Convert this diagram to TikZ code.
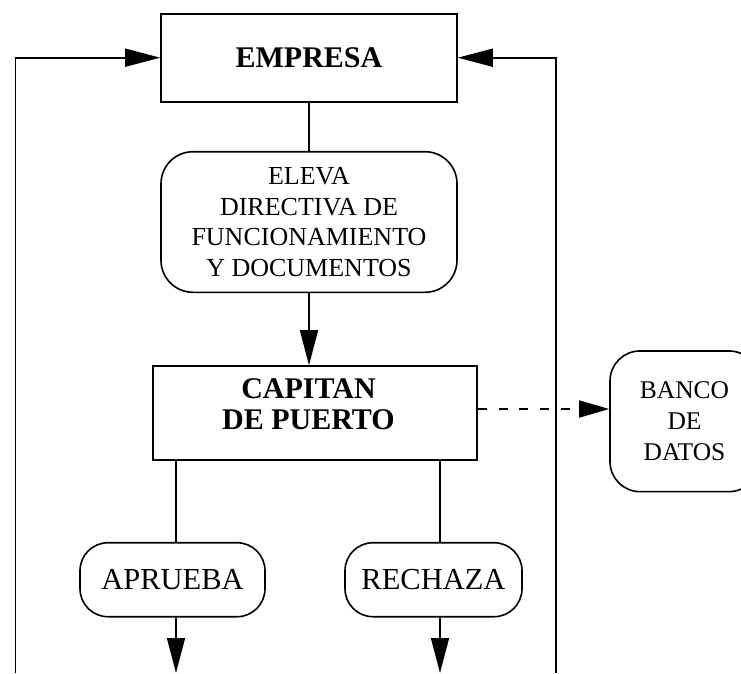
\documentclass[tikz,border=0pt]{standalone}
\usepackage{fontspec}
\setmainfont{Liberation Serif}
\usetikzlibrary{arrows.meta}
\begin{document}
\begin{tikzpicture}[x=1pt,y=-1pt,
  line width=1.6pt,
  tip/.style={-{Triangle[length=35pt,width=18pt]}},
  dtip/.style={-{Triangle[length=30pt,width=17pt]},dash pattern=on 9pt off 11.7pt},
  sqbox/.style={draw,rectangle,inner sep=0pt},
  rbox/.style={draw,rectangle,rounded corners=#1,inner sep=0pt,align=center},
]
\useasboundingbox (0,0) rectangle (741,673);
% boxes
\node[sqbox,minimum width=296pt,minimum height=88pt,font=\bfseries\fontsize{30}{31}\selectfont] (emp) at (309,57.7) {EMPRESA};
\node[rbox=32pt,minimum width=296pt,minimum height=140.6pt,font=\fontsize{26}{30.7}\selectfont] (eleva) at (309,222) {ELEVA\\DIRECTIVA DE\\FUNCIONAMIENTO\\Y DOCUMENTOS};
\node[sqbox,minimum width=324pt,minimum height=94pt] (cap) at (315,413) {};
\node[align=center,inner sep=0pt,font=\bfseries\fontsize{30}{30.7}\selectfont] (captext) at (308.5,404) {CAPITAN\\DE PUERTO};
\node[rbox=30pt,minimum width=149pt,minimum height=140.7pt,font=\fontsize{25.5}{31.3}\selectfont] (banco) at (684.5,421.3) {BANCO\\DE\\DATOS};
\node[rbox=28pt,minimum width=185pt,minimum height=74pt,font=\fontsize{30.5}{32}\selectfont] (apr) at (172.5,579.7) {APRUEBA};
\node[rbox=28pt,minimum width=177pt,minimum height=74pt,font=\fontsize{30.5}{32}\selectfont] (rech) at (433.5,579.7) {RECHAZA};
% free ends
\coordinate (aend) at (176,673);
\coordinate (rend) at (440,673);
\coordinate (lb) at (15.6,673);
\coordinate (rb) at (556,673);
% connectors
\draw (emp) -- (eleva);
\draw[tip] (eleva.south) -- (eleva.south |- cap.north);
\draw[dtip] ([yshift=4pt]cap.east) -- ([yshift=4pt]cap.east -| banco.west);
\draw ([xshift=3.5pt]apr.north) -- ([xshift=3.5pt]apr.north |- cap.south);
\draw ([xshift=6.5pt]rech.north) -- ([xshift=6.5pt]rech.north |- cap.south);
\draw[tip] ([xshift=3.5pt]apr.south) -- (aend);
\draw[tip] ([xshift=6.5pt]rech.south) -- (rend);
\draw[tip] (lb) |- (emp.west);
\draw[tip] (rb) |- (emp.east);
\end{tikzpicture}
\end{document}
